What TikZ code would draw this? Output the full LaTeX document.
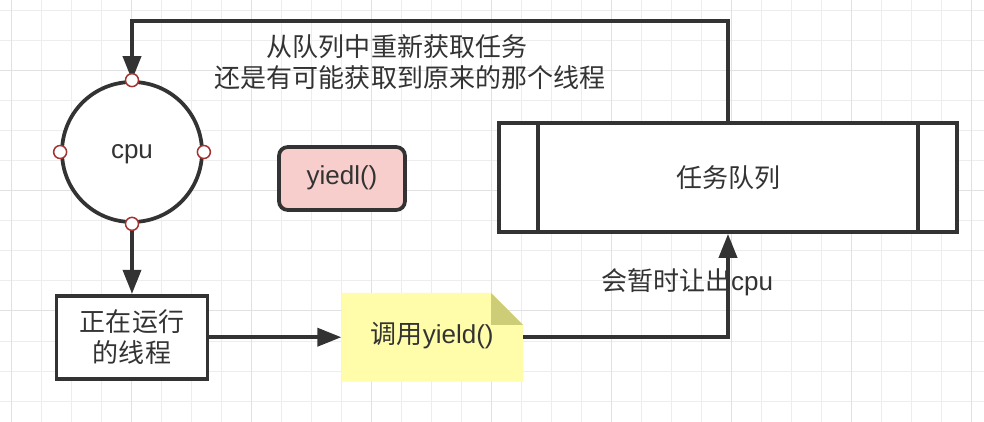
\documentclass[tikz,border=0pt]{standalone}
\usepackage{xcolor}
\usepackage{tikz}
\usetikzlibrary{arrows.meta,positioning,backgrounds,calc}
\usepackage{fontspec}
\setmainfont{Liberation Sans}
\newfontfamily\cjk{Noto Sans CJK SC}
\definecolor{linegray}{HTML}{333333}
\definecolor{pinkbox}{HTML}{F8CECC}
\definecolor{notefill}{HTML}{FFFDAA}
\definecolor{notefold}{HTML}{CDCD78}
\definecolor{pointred}{HTML}{A33232}
\definecolor{gridminor}{HTML}{EDEDED}
\definecolor{gridmajor}{HTML}{E1E1E1}
\tikzset{
  flowbox/.style={
    rectangle, draw=linegray, line width=0.075cm, fill=#1,
    text=linegray, align=center, inner sep=0pt,
    font=\fontsize{14.8pt}{18pt}\selectfont
  },
  flowbox/.default=white,
  latintext/.style={text height=0.9em, text depth=0.21em},
  flowarrow/.style={-{Triangle[length=0.48cm,width=0.36cm]}, line width=0.075cm, draw=linegray},
  flowlabel/.style={text=linegray, align=center, font=\fontsize{14.8pt}{18pt}\selectfont},
  pointmark/.style={draw=pointred, fill=white, line width=0.03cm},
  gridline/.style={draw=gridminor, line width=0.02cm},
  gridline major/.style={draw=gridmajor, line width=0.02cm}
}

\begin{document}
\begin{tikzpicture}[x=0.02cm, y=-0.02cm, node distance=1.4cm]
\useasboundingbox (0,0) rectangle (984,422);
\begin{scope}[on background layer]
\fill[white] (0,0) rectangle (984,422);
\foreach \gx in {11,41,...,971} \draw[gridline] (\gx,0) -- (\gx,422);
\foreach \gy in {11,41,...,401} \draw[gridline] (0,\gy) -- (984,\gy);
\foreach \gx in {11,131,...,971} \draw[gridline major] (\gx,0) -- (\gx,422);
\foreach \gy in {71,191,311} \draw[gridline major] (0,\gy) -- (984,\gy);
\end{scope}

\node[flowbox, latintext, circle, minimum size=2.8cm] (cpu) at (132,152) {cpu};
\node[flowbox, minimum width=3.02cm, minimum height=1.66cm, below=of cpu] (thread) {{\cjk 正在运行}\\{\cjk 的线程}};
\node[flowbox, latintext, draw=none, fill=none, minimum width=3.56cm, minimum height=1.7cm, right=2.64cm of thread] (note) {{\cjk 调用}yield()};
\node[flowbox=pinkbox, latintext, rounded corners=5pt, minimum width=2.52cm, minimum height=1.26cm] (yiedl) at (342,178.5) {yiedl()};
\node[flowbox, minimum width=9.16cm, minimum height=2.18cm] (queue) at (728,177.5) {\cjk 任务队列};
\draw[draw=linegray, line width=0.075cm] ([xshift=0.82cm]queue.north west) -- ([xshift=0.82cm]queue.south west);
\draw[draw=linegray, line width=0.075cm] ([xshift=-0.82cm]queue.north east) -- ([xshift=-0.82cm]queue.south east);

% note with folded corner
\begin{scope}[on background layer]
\fill[notefill] (note.north west) -- ([xshift=-0.64cm]note.north east) -- ([yshift=-0.64cm]note.north east) -- (note.south east) -- (note.south west) -- cycle;
\fill[notefold] ([xshift=-0.64cm]note.north east) -- ([xshift=-0.64cm,yshift=-0.64cm]note.north east) -- ([yshift=-0.64cm]note.north east) -- cycle;
\end{scope}

\draw[flowarrow] (queue.north) -- ++(0,-100) -| node[pos=0.25, flowlabel, xshift=-0.4cm, yshift=-0.82cm]{{\cjk 从队列中重新获取任务}\hspace*{1em}\\{\cjk 还是有可能获取到原来的那个线程}} (cpu.north);
\draw[flowarrow] (cpu) -- (thread);
\draw[flowarrow] (thread) -- (note);
\draw[flowarrow] (note.east) -| node[pos=0.75, flowlabel, xshift=-0.82cm, yshift=0.06cm]{{\cjk 会暂时让出}cpu} (queue.south);

\foreach \a in {north,south,east,west}
  \draw[pointmark] (cpu.\a) circle (0.13cm);
\end{tikzpicture}
\end{document}
